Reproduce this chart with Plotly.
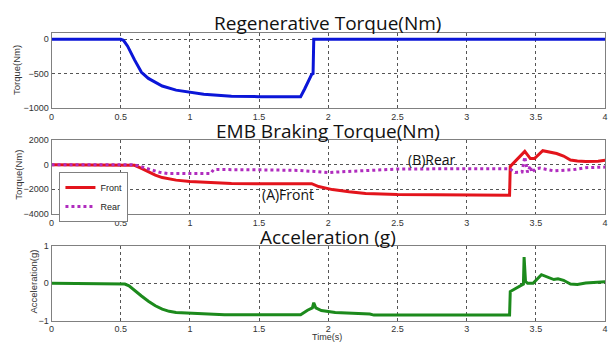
import plotly.graph_objects as go

# ---------------- data ----------------
regen_t = [0, 0.5, 0.52, 0.55, 0.6, 0.65, 0.7, 0.75, 0.8, 0.9, 1.0, 1.1, 1.2, 1.3, 1.5, 1.8,
           1.83, 1.86, 1.88, 1.89, 1.895, 4.0]
regen_v = [0, 0, -15, -100, -300, -480, -570, -630, -680, -740, -770, -800, -815, -830, -835, -835,
           -720, -600, -510, -500, 0, 0]

front_t = [0, 0.57, 0.6, 0.65, 0.7, 0.75, 0.8, 0.85, 0.9, 1.0, 1.1, 1.2, 1.3, 1.5, 1.88, 1.93,
           2.03, 2.15, 2.27, 2.5, 3.0, 3.05, 3.31, 3.315, 3.42, 3.46, 3.49, 3.55, 3.6, 3.65,
           3.7, 3.75, 3.8, 3.86, 3.95, 4.0]
front_v = [0, 0, -60, -300, -600, -850, -1050, -1180, -1260, -1370, -1440, -1490, -1530, -1550,
           -1550, -1780, -2030, -2210, -2340, -2420, -2420, -2480, -2480, -150, 1080, 490, 500,
           1130, 1020, 900, 700, 380, 290, 250, 280, 360]

rear_t = [0, 0.58, 0.62, 0.67, 0.72, 0.78, 0.84, 1.0, 1.15, 1.17, 1.2, 1.5, 1.79, 1.9, 2.0,
          2.1, 2.3, 2.5, 3.0, 3.31, 3.35, 3.4, 3.42, 3.44, 3.46, 3.47, 3.5, 3.53, 3.63, 3.77,
          3.86, 4.0]
rear_v = [0, 0, -80, -250, -470, -620, -720, -730, -730, -420, -400, -420, -470, -560, -650,
          -580, -460, -360, -330, -330, -640, -600, 640, -640, -100, -640, -330, -280, -510,
          -410, -250, -200]

acc_t = [0, 0.5, 0.53, 0.56, 0.6, 0.65, 0.7, 0.75, 0.8, 0.85, 0.9, 1.0, 1.2, 1.25, 1.8, 1.85,
         1.885, 1.895, 1.91, 1.95, 2.05, 2.3, 2.33, 3.31, 3.315, 3.35, 3.39, 3.41, 3.415, 3.425,
         3.44, 3.48, 3.54, 3.6, 3.63, 3.66, 3.7, 3.75, 3.8, 3.86, 4.0]
acc_v = [0, 0, -0.02, -0.07, -0.2, -0.34, -0.48, -0.6, -0.69, -0.75, -0.78, -0.8, -0.82, -0.84,
         -0.84, -0.72, -0.66, -0.52, -0.66, -0.73, -0.78, -0.82, -0.85, -0.85, -0.22, -0.15,
         -0.05, -0.02, 0.70, 0.05, 0.0, 0.0, 0.23, 0.15, 0.1, 0.12, 0.08, -0.02, -0.03, 0.01, 0.04]

x_ticks = [0, 0.5, 1, 1.5, 2, 2.5, 3, 3.5, 4]
x_ticktext = ["0", "0.5", "1", "1.5", "2", "2.5", "3", "3.5", "4"]
y1_ticks = [-1000, -500, 0]
y2_ticks = [-4000, -2000, 0, 2000]
y3_ticks = [-1, 0, 1]

titles = ["Regenerative Torque(Nm)", "EMB Braking Torque(Nm)", "Acceleration (g)"]
ytitles = ["Torque(Nm)", "Torque(Nm)", "Acceleration(g)"]

# ---------------- figure ----------------
W, H = 614, 349
fig = go.Figure()

fig.add_trace(go.Scatter(x=regen_t, y=regen_v, mode="lines", line=dict(color="#0b16d8", width=3),
                         xaxis="x", yaxis="y", showlegend=False))
fig.add_trace(go.Scatter(x=front_t, y=front_v, mode="lines", name="Front",
                         line=dict(color="#e3141c", width=3), xaxis="x2", yaxis="y2"))
fig.add_trace(go.Scatter(x=rear_t, y=rear_v, mode="lines", name="Rear",
                         line=dict(color="#b02cbe", width=3, dash="dot"), xaxis="x2", yaxis="y2"))
fig.add_trace(go.Scatter(x=acc_t, y=acc_v, mode="lines", line=dict(color="#1c8a1c", width=3),
                         xaxis="x3", yaxis="y3", showlegend=False))

xdom = [49 / W, 608 / W]
doms = [[1 - 106 / H, 1 - 29.3 / H], [1 - 215 / H, 1 - 139 / H], [1 - 325 / H, 1 - 248 / H]]
tickfont = dict(family="Liberation Sans, Arial", size=9, color="#333333")

def xax(anchor):
    return dict(domain=xdom, range=[0, 4], tickvals=x_ticks, ticktext=x_ticktext, anchor=anchor,
                showline=True, mirror=True, linecolor="#808080", linewidth=1,
                showgrid=True, gridcolor="#555555", griddash="dot", gridwidth=1,
                zeroline=False, tickfont=tickfont, ticks="")

def yax(anchor, dom, rng, tv):
    return dict(domain=dom, range=rng, tickvals=tv, anchor=anchor,
                showline=True, mirror=True, linecolor="#808080", linewidth=1,
                showgrid=True, gridcolor="#555555", griddash="dot", gridwidth=1,
                zeroline=False, tickfont=tickfont, ticks="")

fig.update_layout(
    width=W, height=H, margin=dict(l=0, r=0, t=0, b=0),
    paper_bgcolor="white", plot_bgcolor="white",
    xaxis=xax("y"), yaxis=yax("x", doms[0], [-1000, 85], y1_ticks),
    xaxis2=xax("y2"), yaxis2=yax("x2", doms[1], [-4000, 2000], y2_ticks),
    xaxis3=xax("y3"), yaxis3=yax("x3", doms[2], [-1, 1], y3_ticks),
    legend=dict(x=57 / W, y=1 - 172 / H, xanchor="left", yanchor="top",
                bgcolor="white", bordercolor="#808080", borderwidth=1,
                font=dict(family="Liberation Sans, Arial", size=9, color="#222222"),
                itemwidth=30, tracegroupgap=0),
)

title_y = [19, 129.5, 238.5]
for t, yy in zip(titles, title_y):
    fig.add_annotation(text=t, x=328 / W, y=1 - yy / H, xref="paper", yref="paper",
                       showarrow=False, xanchor="center", yanchor="middle", borderpad=0,
                       font=dict(family="Open Sans", size=19, color="#111111"))

ytitle_pos = [(13, 67), (16, 175), (31, 285)]
for t, (xx, yy) in zip(ytitles, ytitle_pos):
    fig.add_annotation(text=t, x=xx / W, y=1 - yy / H, xref="paper", yref="paper",
                       showarrow=False, textangle=-90, xanchor="center", yanchor="middle",
                       font=dict(family="Liberation Sans, Arial", size=9.5, color="#333333"))

fig.add_annotation(text="Time(s)", x=327 / W, y=1 - 342 / H, xref="paper", yref="paper",
                   showarrow=False, xanchor="center", yanchor="middle",
                   font=dict(family="Liberation Sans, Arial", size=9, color="#333333"))

fig.add_annotation(text="(B)Rear", x=433 / W, y=1 - 159 / H, xref="paper", yref="paper",
                   showarrow=False, xanchor="center", yanchor="middle",
                   font=dict(family="Open Sans", size=14, color="#111111"))
fig.add_annotation(text="(A)Front", x=288 / W, y=1 - 195 / H, xref="paper", yref="paper",
                   showarrow=False, xanchor="center", yanchor="middle",
                   font=dict(family="Open Sans", size=14, color="#111111"))

fig.write_html("out.html")
